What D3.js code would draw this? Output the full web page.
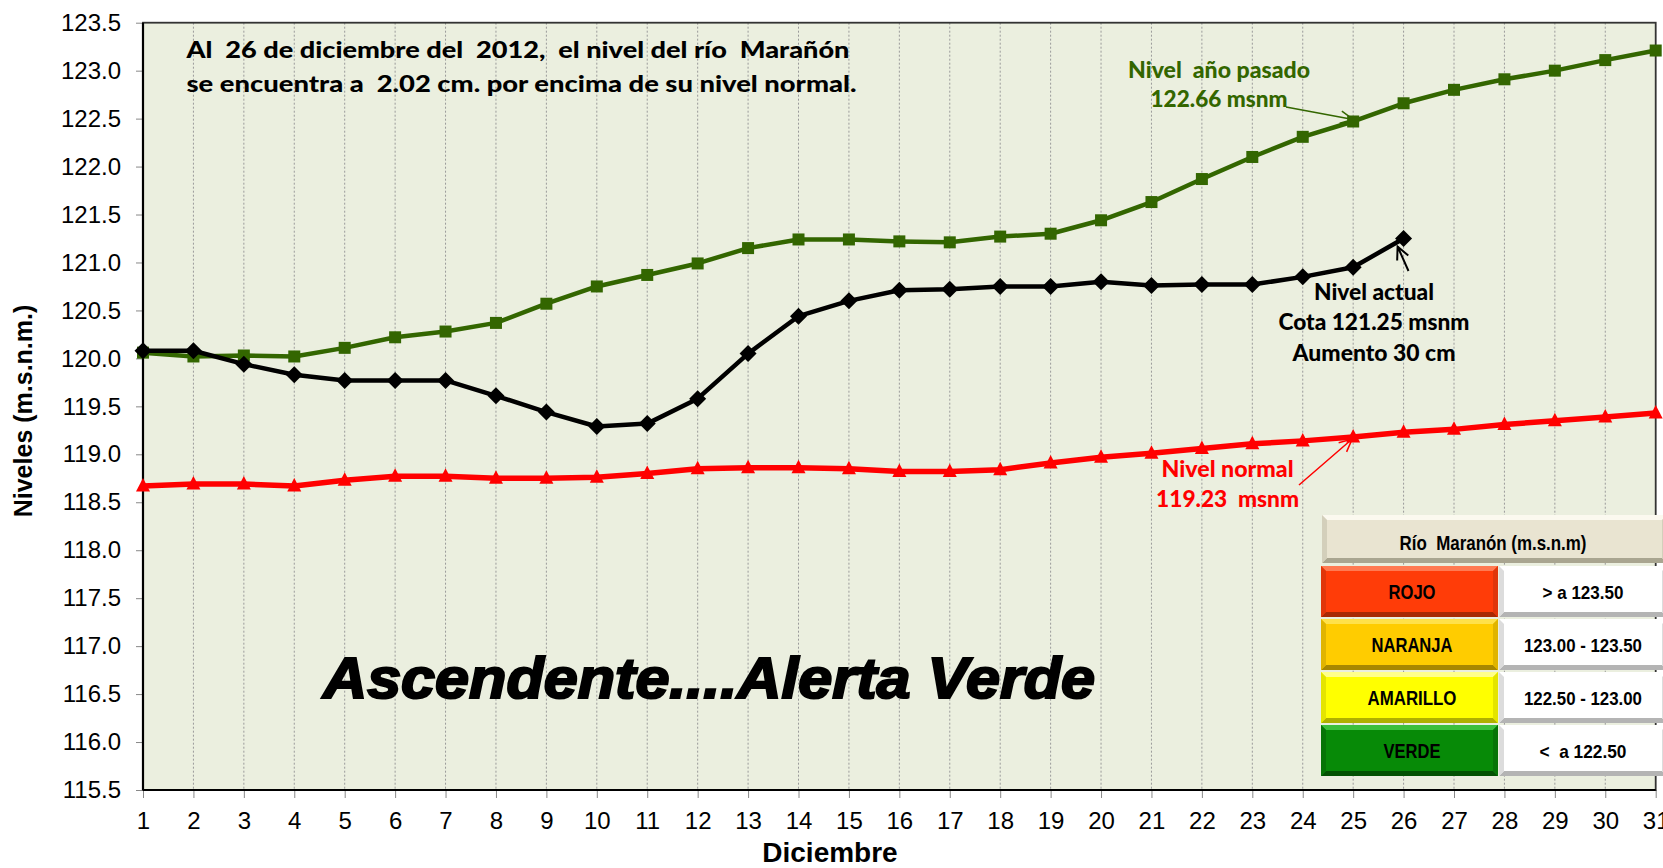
<!DOCTYPE html>
<html><head><meta charset="utf-8">
<script src="https://cdn.jsdelivr.net/npm/d3@7"></script>
<style>
html,body{margin:0;padding:0;background:#fff;}
svg{display:block;}
text{white-space:pre;}
</style></head>
<body>
<svg id="chart" width="1663" height="868"></svg>
<script>
// ---------- DATA ----------
const days = d3.range(1, 32);
const nivelActual = [120.08,120.08,119.94,119.83,119.77,119.77,119.77,119.61,119.44,119.29,119.32,119.58,120.05,120.44,120.60,120.71,120.72,120.75,120.75,120.80,120.76,120.77,120.77,120.85,120.95,121.25];
const nivelAnoPasado = [120.06,120.02,120.03,120.02,120.11,120.22,120.28,120.37,120.57,120.75,120.87,120.99,121.15,121.24,121.24,121.22,121.21,121.27,121.30,121.44,121.63,121.87,122.10,122.31,122.47,122.66,122.80,122.91,123.00,123.11,123.21];
const nivelNormal = [118.67,118.69,118.69,118.67,118.73,118.77,118.77,118.75,118.75,118.76,118.80,118.85,118.86,118.86,118.85,118.82,118.82,118.84,118.91,118.97,119.01,119.06,119.11,119.14,119.18,119.23,119.26,119.31,119.35,119.39,119.43];
const yTicks = [115.5,116.0,116.5,117.0,117.5,118.0,118.5,119.0,119.5,120.0,120.5,121.0,121.5,122.0,122.5,123.0,123.5];
const alertNames = ["ROJO","NARANJA","AMARILLO","VERDE"];
const alertRanges = ["> a 123.50","123.00 - 123.50","122.50 - 123.00","<  a 122.50"];
const tableTitle = "Río  Maranón (m.s.n.m)";
const infoLines = ["Al  26 de diciembre del  2012,  el nivel del río  Marañón","se encuentra a  2.02 cm. por encima de su nivel normal."];

// ---------- LAYOUT ----------
const svg = d3.select("#chart");
const L = 143, R = 1655.7, T = 22.7, B = 790;
const x = d3.scaleLinear().domain([1, 31]).range([L, R]);
const y = d3.scaleLinear().domain([115.5, 123.5]).range([B, T]);
const GREEN = "#336600", RED = "#ff0000";
const tickFont = "'Liberation Sans', Arial, sans-serif";
const annFont = "Lato, 'Open Sans', sans-serif";

// plot background
svg.append("rect").attr("x", L).attr("y", T).attr("width", R - L).attr("height", B - T)
  .attr("fill", "#ebefdf");

// vertical dotted gridlines
svg.append("g").selectAll("line").data(days.slice(1, 30)).join("line")
  .attr("x1", d => x(d)).attr("x2", d => x(d)).attr("y1", T).attr("y2", B)
  .attr("stroke", "#9a9a9a").attr("stroke-width", 1).attr("stroke-dasharray", "2,2");

// axes
const yAxis = d3.axisLeft(y).tickValues(yTicks).tickFormat(d3.format(".1f")).tickSize(7).tickPadding(15);
const gy = svg.append("g").attr("transform", `translate(${L},0)`).call(yAxis);
gy.select(".domain").remove();
gy.selectAll(".tick line").attr("stroke", "#888");
gy.selectAll("text").attr("font-family", tickFont).attr("font-size", 24).attr("fill", "#000");

const xAxis = d3.axisBottom(x).tickValues(days).tickFormat(d3.format("d")).tickSize(8).tickPadding(14);
const gx = svg.append("g").attr("transform", `translate(0,${B})`).call(xAxis);
gx.select(".domain").remove();
gx.selectAll(".tick line").attr("stroke", "#888");
gx.selectAll("text").attr("font-family", tickFont).attr("font-size", 24).attr("fill", "#000");

// border
svg.append("rect").attr("x", L).attr("y", T).attr("width", R - L).attr("height", B - T)
  .attr("fill", "none").attr("stroke", "#333").attr("stroke-width", 1.8);
svg.append("line").attr("x1", L).attr("x2", L).attr("y1", T).attr("y2", B).attr("stroke", "#000").attr("stroke-width", 2.2);
svg.append("line").attr("x1", L).attr("x2", R).attr("y1", B).attr("y2", B).attr("stroke", "#000").attr("stroke-width", 2.2);

// axis titles
svg.append("text").attr("transform", `translate(32,411) rotate(-90)`).attr("text-anchor", "middle")
  .attr("font-family", tickFont).attr("font-weight", "bold").attr("font-size", 25).text("Niveles (m.s.n.m.)");
svg.append("text").attr("x", 830).attr("y", 862).attr("text-anchor", "middle")
  .attr("font-family", tickFont).attr("font-weight", "bold").attr("font-size", 28).text("Diciembre");

// ---------- SERIES ----------
const line = d3.line().x((d, i) => x(days[i])).y(d => y(d));

// normal (red)
svg.append("path").datum(nivelNormal).attr("d", line).attr("fill", "none").attr("stroke", RED).attr("stroke-width", 5.5).attr("stroke-linejoin", "round");
svg.append("g").selectAll("path").data(nivelNormal).join("path")
  .attr("transform", (d, i) => `translate(${x(days[i])},${y(d)})`)
  .attr("d", "M0,-8 L7,5.5 L-7,5.5 Z").attr("fill", RED);

// last year (green)
svg.append("path").datum(nivelAnoPasado).attr("d", line).attr("fill", "none").attr("stroke", GREEN).attr("stroke-width", 4.5).attr("stroke-linejoin", "round");
svg.append("g").selectAll("rect").data(nivelAnoPasado).join("rect")
  .attr("x", (d, i) => x(days[i]) - 6).attr("y", d => y(d) - 6).attr("width", 12).attr("height", 12).attr("fill", GREEN);

// current (black)
svg.append("path").datum(nivelActual).attr("d", line).attr("fill", "none").attr("stroke", "#000").attr("stroke-width", 4.5).attr("stroke-linejoin", "round");
svg.append("g").selectAll("path").data(nivelActual).join("path")
  .attr("transform", (d, i) => `translate(${x(days[i])},${y(d)})`)
  .attr("d", "M0,-8.5 L8.5,0 L0,8.5 L-8.5,0 Z").attr("fill", "#000");

// ---------- ANNOTATIONS ----------
function txt(s, xx, yy, opts) {
  const t = svg.append("text").attr("x", xx).attr("y", yy).text(s)
    .attr("font-family", opts.font || annFont).attr("font-weight", opts.weight || "bold")
    .attr("font-size", opts.size).attr("fill", opts.fill || "#000")
    .attr("text-anchor", opts.anchor || "start");
  if (opts.len) t.attr("textLength", opts.len).attr("lengthAdjust", "spacingAndGlyphs");
  return t;
}
txt(infoLines[0], 186.5, 57.5, {size: 23, len: 663, weight: 900});
txt(infoLines[1], 186.5, 91.5, {size: 23, len: 670, weight: 900});

txt("Nivel  año pasado", 1219, 78, {size: 22, fill: GREEN, anchor: "middle", len: 182, weight: 900});
txt("122.66 msnm", 1219, 107, {size: 22, fill: GREEN, anchor: "middle", len: 137, weight: 900});

txt("Nivel actual", 1374, 300, {size: 22, anchor: "middle", len: 120, weight: 900});
txt("Cota 121.25 msnm", 1374, 330, {size: 22, anchor: "middle", len: 191, weight: 900});
txt("Aumento 30 cm", 1374, 361, {size: 22, anchor: "middle", len: 163, weight: 900});

txt("Nivel normal", 1227.6, 477, {size: 22, fill: RED, anchor: "middle", len: 132, weight: 900});
txt("119.23  msnm", 1227.6, 507, {size: 22, fill: RED, anchor: "middle", len: 143, weight: 900});

function arrow(x1, y1, x2, y2, color, w) {
  const a = Math.atan2(y2 - y1, x2 - x1), len = 14, sp = Math.PI / 7;
  const p = `M${x1},${y1}L${x2},${y2}M${x2 - len * Math.cos(a - sp)},${y2 - len * Math.sin(a - sp)}L${x2},${y2}L${x2 - len * Math.cos(a + sp)},${y2 - len * Math.sin(a + sp)}`;
  svg.append("path").attr("d", p).attr("fill", "none").attr("stroke", color).attr("stroke-width", w);
}
arrow(1286, 107, x(25), y(nivelAnoPasado[24]) - 2, GREEN, 1.5);
arrow(1408.5, 271, x(26) - 6, y(nivelActual[25]) + 8, "#000", 2);
arrow(1299, 485, x(25) - 1, y(nivelNormal[24]) + 2, RED, 1.5);

// big status text
svg.append("text").attr("x", 323).attr("y", 698).text("Ascendente....Alerta Verde")
  .attr("font-family", "'Liberation Sans', Arial, sans-serif").attr("font-weight", "bold").attr("font-style", "italic")
  .attr("font-size", 57).attr("fill", "#000").attr("stroke", "#000").attr("stroke-width", 2.2)
  .attr("textLength", 772).attr("lengthAdjust", "spacingAndGlyphs");

// ---------- ALERT TABLE ----------
function bevelCell(x0, y0, w, h, base, light, dark, side) {
  const b = 5, g = svg.append("g");
  g.append("rect").attr("x", x0).attr("y", y0).attr("width", w).attr("height", h).attr("fill", base);
  g.append("path").attr("d", `M${x0},${y0}L${x0 + w},${y0}L${x0 + w - b},${y0 + b}L${x0 + b},${y0 + b}Z`).attr("fill", light);
  g.append("path").attr("d", `M${x0},${y0 + h}L${x0 + w},${y0 + h}L${x0 + w - b},${y0 + h - b}L${x0 + b},${y0 + h - b}Z`).attr("fill", dark);
  g.append("path").attr("d", `M${x0},${y0}L${x0 + b},${y0 + b}L${x0 + b},${y0 + h - b}L${x0},${y0 + h}Z`).attr("fill", side);
  g.append("path").attr("d", `M${x0 + w},${y0}L${x0 + w - b},${y0 + b}L${x0 + w - b},${y0 + h - b}L${x0 + w},${y0 + h}Z`).attr("fill", side);
  return g;
}
const tblFont = "'Liberation Sans Narrow', 'Liberation Sans', Arial, sans-serif";
bevelCell(1322, 515, 345, 48, "#e9e4d1", "#fbf9ef", "#a9a590", "#d3cfbb");
txt(tableTitle, 1493, 550, {size: 21, anchor: "middle", font: tblFont, len: 187});

const cellColors = [
  ["#ff3c08", "#ff7a52", "#a82904", "#e0360a"],
  ["#ffcc00", "#ffe14a", "#a88700", "#e0b400"],
  ["#ffff00", "#ffff8a", "#b0b000", "#e4e400"],
  ["#078a07", "#3cbf3c", "#035203", "#067406"]
];
const nameLens = [47, 81, 89, 57], rangeLens = [81, 118, 118, 87];
alertNames.forEach((n, i) => {
  const yy = 566 + i * 53;
  const c = cellColors[i];
  bevelCell(1321, yy, 177, 51, c[0], c[1], c[2], c[3]);
  bevelCell(1499, yy, 168, 51, "#ffffff", "#ffffff", "#b4b4b4", "#dcdcdc");
  txt(n, 1412, yy + 33, {size: 21, anchor: "middle", font: tblFont, len: nameLens[i]});
  txt(alertRanges[i], 1583, yy + 33, {size: 19, anchor: "middle", font: tblFont, len: rangeLens[i]});
});
</script>
</body></html>
